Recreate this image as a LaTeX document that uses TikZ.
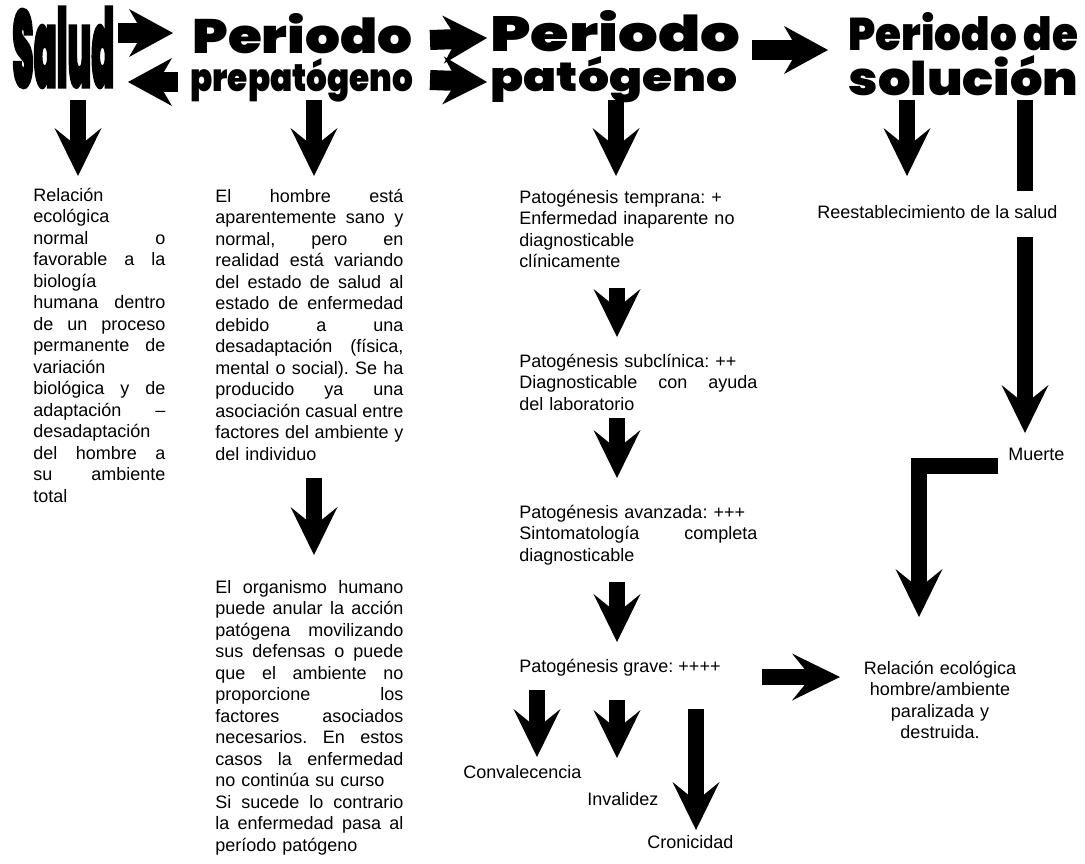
\documentclass[tikz,border=0pt]{standalone}
\usepackage{fontspec}
\usepackage{graphicx}
\setmainfont{Liberation Sans}
\newfontfamily\headfont{Poppins Black}
\newfontfamily\saludfont{Poppins Black}[FakeBold=3]
\usetikzlibrary{arrows.meta}
% una linea justificada / una linea final
\newcommand{\jline}[1]{\hbox to\hsize{\spaceskip=\fontdimen2\font plus 1fil\relax#1}\par}
\newcommand{\lline}[1]{\hbox to\hsize{#1\hfill}\par}
\newcommand{\cab}[3]{\resizebox{#1}{#2}{\headfont #3}}
\hbadness=10000 \hfuzz=6pt
\begin{document}
\begin{tikzpicture}[x=0.5pt,y=-0.5pt,line join=miter,
	texto/.style={inner sep=0pt,anchor=base west,font={\fontsize{9}{10.75}\selectfont\frenchspacing}},
	titulo/.style={inner sep=0pt,anchor=base west},
	flecha/.style={line width=8pt,-{Stealth[length=24pt,width=23.5pt,inset=9.5pt,line width=0pt]}},
	flechag/.style={line width=10pt,-{Stealth[length=22pt,width=24pt,inset=7pt,line width=0pt]}},
	barra/.style={line width=8pt}]
	\useasboundingbox (0,0) rectangle (1085,863);
	% titulos
	\node[titulo] (salud) at (12,87) {\resizebox{51pt}{40pt}{\saludfont Salud}};
	\node[titulo] (per1) at (192,53) {\cab{110pt}{20pt}{Periodo}};
	\node[titulo] (prep) at (190,91) {\cab{111.5pt}{16.5pt}{prepatógeno}};
	\node[titulo] (per2) at (490,51) {\cab{125pt}{20.5pt}{Periodo}};
	\node[titulo] (pat) at (490,91) {\cab{123.5pt}{17.5pt}{patógeno}};
	\node[titulo] (per3) at (848,50) {\cab{115pt}{19pt}{Periodo de}};
	\node[titulo] (sol) at (848,95) {\cab{115pt}{20pt}{solución}};
	% textos
	\node[texto,text width=66pt] (normal) at (33,201) {%
		\jline{Relación}\jline{ecológica}\jline{normal o}\jline{favorable a la}
		\jline{biología}\jline{humana dentro}\jline{de un proceso}\jline{permanente de}
		\jline{variación}\jline{biológica y de}\jline{adaptación –}\jline{desadaptación}
		\jline{del hombre a}\jline{su ambiente}\lline{total}};
	\node[texto,text width=94pt] (prepa) at (215,202) {%
		\jline{El hombre está}\jline{aparentemente sano y}\jline{normal, pero en}
		\jline{realidad está variando}\jline{del estado de salud al}\jline{estado de enfermedad}
		\jline{debido a una}\jline{desadaptación (física,}\jline{mental o social). Se ha}
		\jline{producido ya una}\jline{asociación casual entre}\jline{factores del ambiente y}
		\lline{del individuo}};
	\node[texto,text width=94pt] (defensa) at (215,593) {%
		\jline{El organismo humano}\jline{puede anular la acción}\jline{patógena movilizando}
		\jline{sus defensas o puede}\jline{que el ambiente no}\jline{proporcione los}
		\jline{factores asociados}\jline{necesarios. En estos}\jline{casos la enfermedad}
		\lline{no continúa su curso}\jline{Si sucede lo contrario}\jline{la enfermedad pasa al}
		\lline{período patógeno}};
	\node[texto,text width=119pt] (temprana) at (519,203) {%
		\lline{Patogénesis temprana: +}\lline{Enfermedad inaparente no}
		\lline{diagnosticable}\lline{clínicamente}};
	\node[texto,text width=119pt] (subclin) at (519,367) {%
		\lline{Patogénesis subclínica: ++}\jline{Diagnosticable con ayuda}\lline{del laboratorio}};
	\node[texto,text width=119pt] (avanzada) at (519,518) {%
		\lline{Patogénesis avanzada: +++}\jline{Sintomatología completa}\lline{diagnosticable}};
	\node[texto] (grave) at (519,672) {Patogénesis grave: ++++};
	\node[texto] (conva) at (463,778) {Convalecencia};
	\node[texto] (inval) at (587,805) {Invalidez};
	\node[texto] (croni) at (647,848) {Cronicidad};
	\node[texto] (reest) at (817,218) {Reestablecimiento de la salud};
	\node[texto] (muerte) at (1008,460) {Muerte};
	\node[texto,anchor=base,text width=85pt,align=center] (destruida) at (940,674)
		{Relación ecológica\\hombre/ambiente\\paralizada y\\destruida.};
	% puntos de las flechas
	\path (118,33) coordinate (a1) (173,33) coordinate (a2)
		(178,82) coordinate (a3) (128,82) coordinate (a4)
		(430,40) coordinate (b1) (487,38) coordinate (b2)
		(430,80) coordinate (b3) (487,82) coordinate (b4)
		(752,50) coordinate (g1) (828,50) coordinate (g2);
	\path (78,100) coordinate (s1) (78,176) coordinate (s2)
		(314,100) coordinate (p1) (314,176) coordinate (p2)
		(314,478) coordinate (p3) (314,555) coordinate (p4)
		(616,100) coordinate (q1) (616,176) coordinate (q2)
		(617,288) coordinate (q3) (617,337) coordinate (q4)
		(617,418) coordinate (q5) (617,478) coordinate (q6)
		(617,582) coordinate (q7) (617,642) coordinate (q8)
		(537,690) coordinate (c1) (537,757) coordinate (c2)
		(617,700) coordinate (i1) (617,758) coordinate (i2)
		(696,709) coordinate (k1) (696,830) coordinate (k2)
		(762,677) coordinate (d1) (840,677) coordinate (d2)
		(907,100) coordinate (r1) (907,176) coordinate (r2)
		(1025,100) coordinate (m1) (1025,191) coordinate (m2)
		(1025,237) coordinate (m3) (1025,433) coordinate (m4)
		(998,466) coordinate (e1) (919,466) coordinate (e2) (919,617) coordinate (e3);
	% flechas
	\foreach \u/\v in {a1/a2,a3/a4,b1/b2,b3/b4,g1/g2}
		{\draw[flechag] (\u)--(\v);}
	\foreach \u/\v in {s1/s2,p1/p2,p3/p4,q1/q2,q3/q4,q5/q6,q7/q8,c1/c2,i1/i2,k1/k2,d1/d2,r1/r2,m3/m4}
		{\draw[flecha] (\u)--(\v);}
	\draw[barra] (m1)--(m2);
	\draw[flecha] (e1)--(e2)--(e3);
\end{tikzpicture}
\end{document}
